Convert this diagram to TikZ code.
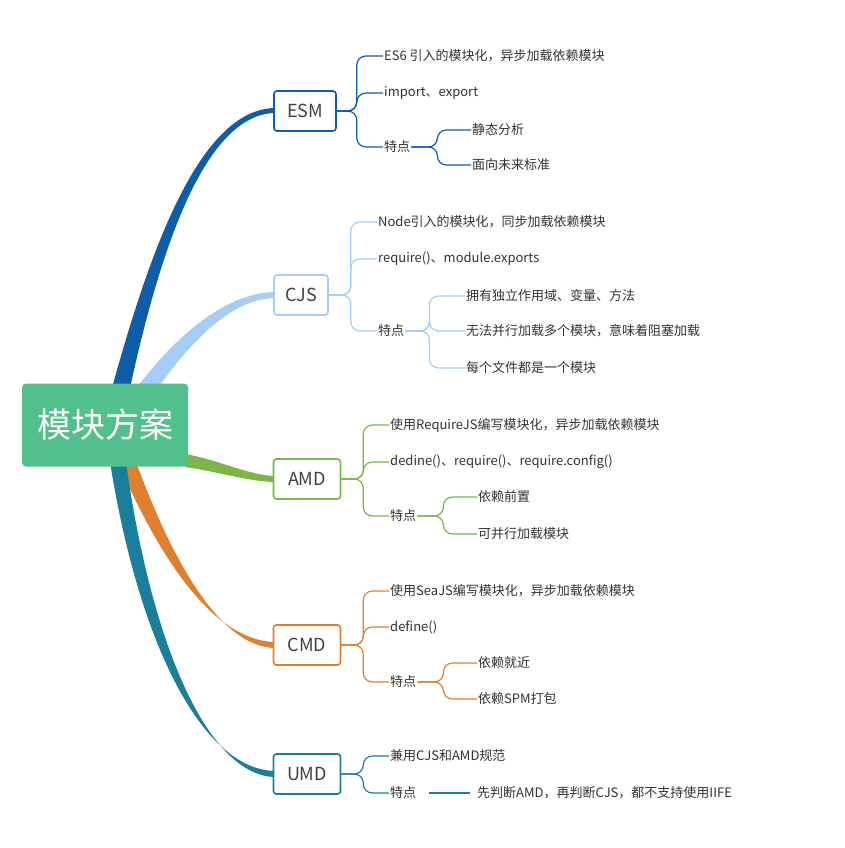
\documentclass[tikz,border=0pt]{standalone}
\usepackage{fontspec}
\setmainfont{Noto Sans CJK SC}
\begin{document}
\begin{tikzpicture}[x=1pt,y=-1pt,
  box/.style={draw,line width=1.6pt,rounded corners=3pt,fill=white,minimum height=40pt,inner sep=5pt,font=\fontsize{18}{20}\selectfont,text=black!75},
  leaf/.style={anchor=west,inner sep=1pt,font=\fontsize{13}{15}\selectfont,text=black!80},
  link/.style={line width=1.2pt,rounded corners=9pt}]
\definecolor{cesm}{HTML}{0E5DA8}
\definecolor{ccjs}{HTML}{A5CDF5}
\definecolor{camd}{HTML}{7AB648}
\definecolor{ccmd}{HTML}{E07F2E}
\definecolor{cumd}{HTML}{1A7F9A}
\definecolor{croot}{HTML}{52C08A}
\useasboundingbox[fill=white] (0,0) rectangle (845,848);
% ветви
\fill[cesm] (112,388) .. controls (150,250) and (200,108) .. (276,108) -- (276,113) .. controls (205,113) and (160,250) .. (130,388) -- cycle;
\fill[ccjs] (135,390) .. controls (180,330) and (230,292) .. (276,292) -- (276,298) .. controls (235,298) and (195,335) .. (155,392) -- cycle;
\fill[camd] (185,454) .. controls (220,460) and (250,476) .. (276,476) -- (276,482) .. controls (250,482) and (220,472) .. (185,467) -- cycle;
\fill[ccmd] (118,462) .. controls (160,560) and (215,642) .. (276,642) -- (276,648) .. controls (220,648) and (172,560) .. (136,462) -- cycle;
\fill[cumd] (110,462) .. controls (140,650) and (205,771) .. (276,771) -- (276,777) .. controls (210,777) and (152,650) .. (126,462) -- cycle;
% корень
\node[fill=croot,rounded corners=4pt,minimum width=166pt,minimum height=83pt,text=white,font=\fontsize{34}{36}\selectfont] (root) at (105,425) {模块方案};
% узлы
\node[box,draw=cesm,minimum width=62pt] (esm) at (305,111) {ESM};
\node[box,draw=ccjs,minimum width=54pt] (cjs) at (301,295) {CJS};
\node[box,draw=camd,minimum width=67pt] (amd) at (307,479) {AMD};
\node[box,draw=ccmd,minimum width=67pt] (cmd) at (307,645) {CMD};
\node[box,draw=cumd,minimum width=67pt] (umd) at (307,774) {UMD};
% ESM
\node[leaf] (esm1) at (383,56) {ES6 引入的模块化，异步加载依赖模块};
\node[leaf] (esm2) at (383,93) {import、export};
\node[leaf] (esm3) at (383,147) {特点};
\node[leaf] (esm31) at (471,130) {静态分析};
\node[leaf] (esm32) at (471,165) {面向未来标准};
\foreach \t in {esm1,esm2,esm3} \draw[link,cesm] (esm.east) -- ++(20,0) |- (\t.west);
\foreach \t in {esm31,esm32} \draw[link,cesm] (esm3.east) -- ++(26,0) |- (\t.west);
% CJS
\node[leaf] (cjs1) at (377,222) {Node引入的模块化，同步加载依赖模块};
\node[leaf] (cjs2) at (377,259) {require()、module.exports};
\node[leaf] (cjs3) at (377,331) {特点};
\node[leaf] (cjs31) at (465,296) {拥有独立作用域、变量、方法};
\node[leaf] (cjs32) at (465,331) {无法并行加载多个模块，意味着阻塞加载};
\node[leaf] (cjs33) at (465,368) {每个文件都是一个模块};
\foreach \t in {cjs1,cjs2,cjs3} \draw[link,ccjs] (cjs.east) -- ++(22,0) |- (\t.west);
\foreach \t in {cjs31,cjs32,cjs33} \draw[link,ccjs] (cjs3.east) -- ++(24,0) |- (\t.west);
% AMD
\node[leaf] (amd1) at (389,425) {使用RequireJS编写模块化，异步加载依赖模块};
\node[leaf] (amd2) at (389,462) {dedine()、require()、require.config()};
\node[leaf] (amd3) at (389,516) {特点};
\node[leaf] (amd31) at (477,497) {依赖前置};
\node[leaf] (amd32) at (477,534) {可并行加载模块};
\foreach \t in {amd1,amd2,amd3} \draw[link,camd] (amd.east) -- ++(22,0) |- (\t.west);
\foreach \t in {amd31,amd32} \draw[link,camd] (amd3.east) -- ++(26,0) |- (\t.west);
% CMD
\node[leaf] (cmd1) at (389,591) {使用SeaJS编写模块化，异步加载依赖模块};
\node[leaf] (cmd2) at (389,627) {define()};
\node[leaf] (cmd3) at (389,682) {特点};
\node[leaf] (cmd31) at (477,663) {依赖就近};
\node[leaf] (cmd32) at (477,699) {依赖SPM打包};
\foreach \t in {cmd1,cmd2,cmd3} \draw[link,ccmd] (cmd.east) -- ++(22,0) |- (\t.west);
\foreach \t in {cmd31,cmd32} \draw[link,ccmd] (cmd3.east) -- ++(26,0) |- (\t.west);
% UMD
\node[leaf] (umd1) at (389,756) {兼用CJS和AMD规范};
\node[leaf] (umd2) at (389,793) {特点};
\node[leaf] (umd21) at (476,793) {先判断AMD，再判断CJS，都不支持使用IIFE};
\foreach \t in {umd1,umd2} \draw[link,cumd] (umd.east) -- ++(22,0) |- (\t.west);
\draw[link,cumd] (umd2.east) ++(12,0) -- ([xshift=-6pt]umd21.west);
\end{tikzpicture}
\end{document}
